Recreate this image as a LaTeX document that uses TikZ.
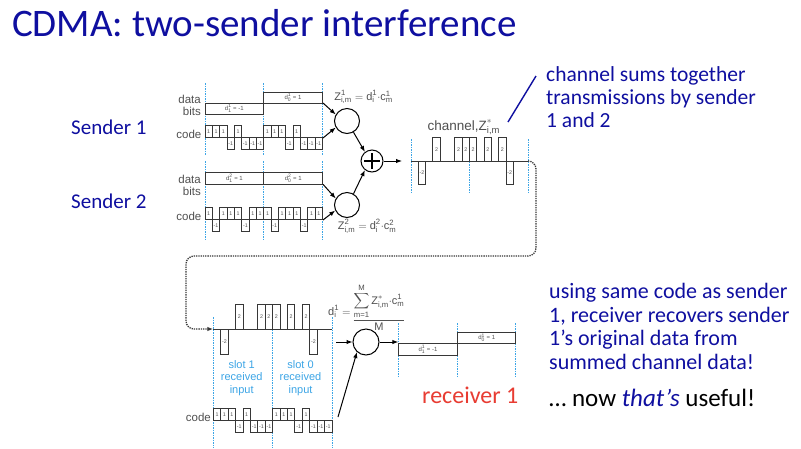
\documentclass[tikz,border=0pt]{standalone}
\usepackage{fontspec}
\usepackage{amsmath}
\setmainfont{Carlito}
\newfontfamily\dfont{Liberation Sans}
\usetikzlibrary{arrows.meta}

\definecolor{slideblue}{RGB}{15,15,160}
\definecolor{ink}{RGB}{55,55,55}
\definecolor{lbl}{RGB}{80,80,80}
\definecolor{slotblue}{RGB}{60,165,230}
\definecolor{rxred}{RGB}{232,60,50}

\newcommand\tv[1]{\text{#1}}
\newcommand\dlab[3]{$\tv{d}^{\tv{#1}}_{\tv{#2}}$ = #3}

% chip train: #1 name prefix, #2 x0, #3 baseline, #4 chip width, #5 unit height, #6 values
\newcommand\chipseq[6]{%
  \foreach \v [count=\k from 0] in {#6} {%
    \ifnum\v=0\relax\else
      \draw[wave] ({#2+\k*#4},#3) rectangle ({#2+(\k+1)*#4},{#3-\v*#5});
      \node[chiplbl] (#1-\k) at ({#2+(\k+0.5)*#4},{#3-\v*#5/2}) {\v};
    \fi}}

% one data bit: #1 name, #2 x0, #3 x1, #4 baseline, #5 value, #6 height, #7 label
\newcommand\databit[7]{%
  \draw[wave] (#2,#4) rectangle (#3,{#4-#5*#6});
  \node[bitlbl] (#1) at ({(#2+#3)/2},{#4-#5*#6/2}) {#7};}

% slot boundaries: #1 x0, #2 slot width, #3 top, #4 bottom
\newcommand\slotlines[4]{%
  \foreach \j in {0,1,2} \draw[slot] ({#1+\j*#2},#3) -- ({#1+\j*#2},#4);}

\begin{document}
\begin{tikzpicture}[x=1pt,y=-1pt,
  wave/.style={draw=ink, line width=0.9pt},
  slot/.style={draw=slotblue, line width=0.8pt, dash pattern=on 1.5pt off 1pt},
  chiplbl/.style={font=\dfont\fontsize{5.3}{5.3}\selectfont, text=lbl, inner sep=0},
  bitlbl/.style={font=\dfont\fontsize{6}{6}\selectfont, text=lbl, inner sep=0},
  side/.style={font=\dfont\fontsize{11.5}{11.5}\selectfont, text=lbl, inner sep=0},
  fml/.style={font=\dfont\fontsize{11}{11}\selectfont, text=lbl, inner sep=0},
  mult/.style={circle, draw=black, line width=1pt, minimum size=25pt, inner sep=0},
  arr/.style={draw=black, line width=1pt, -{Latex[length=6pt,width=4.5pt]}},
  link/.style={draw=ink, line width=1.3pt, dash pattern=on 1.3pt off 1pt},
  sender/.style={font=\fontsize{21}{21}\selectfont, text=slideblue, inner sep=0, anchor=base west}]

\fill[white] (0,0) rectangle (801,448);
\useasboundingbox (0,0) rectangle (801,448);

% title
\node[anchor=base west, font=\fontsize{39}{39}\selectfont, text=slideblue, inner sep=0]
  (title) at (12,36.7) {CDMA: two-sender interference};

% senders
\node[sender] (snd1) at (71,134) {Sender 1};
\node[sender] (snd2) at (71,208) {Sender 2};

% ---- sender 1
\slotlines{205}{58.65}{83}{155}
\databit{s1b1}{205}{263.65}{103}{-1}{11}{\dlab{1}{1}{-1}}
\databit{s1b0}{263.65}{322.3}{103}{1}{11}{\dlab{1}{0}{1}}
\chipseq{s1c}{205}{137.3}{7.33}{12}{1,1,1,-1,1,-1,-1,-1,1,1,1,-1,1,-1,-1,-1}
\node[side, anchor=base east] (s1data) at (201,103.3) {data};
\node[side, anchor=base east] (s1bits) at (201,115) {bits};
\node[side, anchor=base east] (s1code) at (201.5,138.3) {code};
\coordinate (s1dend) at (323,103);
\coordinate (s1cend) at (323,138);

% ---- sender 2
\slotlines{205}{58.85}{161}{240}
\databit{s2b1}{205}{263.85}{184.3}{1}{12}{\dlab{2}{1}{1}}
\databit{s2b0}{263.85}{322.7}{184.3}{1}{12}{\dlab{2}{0}{1}}
\chipseq{s2c}{205}{219.3}{7.35}{12}{1,-1,1,1,1,-1,1,1,1,-1,1,1,1,-1,1,1}
\node[side, anchor=base east] (s2data) at (201,183.3) {data};
\node[side, anchor=base east] (s2bits) at (201,195) {bits};
\node[side, anchor=base east] (s2code) at (201.5,220.7) {code};
\coordinate (s2dend) at (323,184.3);
\coordinate (s2cend) at (323,220);

% ---- multipliers and summer
\node[mult] (m1) at (347,121) {};
\node[mult] (m2) at (347,205) {};
\node[mult, minimum size=22pt] (sum) at (372,161) {};
\draw[black, line width=1.3pt] ([xshift=-8pt]sum.center) -- ([xshift=8pt]sum.center);
\draw[black, line width=1.3pt] ([yshift=-8pt]sum.center) -- ([yshift=8pt]sum.center);

\node[fml, anchor=base] (z1) at (363.5,100)
  {$\tv{Z}^{\tv{1}}_{\tv{i,m}} = \tv{d}^{\tv{1}}_{\tv{i}}{\cdot}\tv{c}^{\tv{1}}_{\tv{m}}$};
\node[fml, anchor=base] (z2) at (367,229.3)
  {$\tv{Z}^{\tv{2}}_{\tv{i,m}} = \tv{d}^{\tv{2}}_{\tv{i}}{\cdot}\tv{c}^{\tv{2}}_{\tv{m}}$};

\draw[arr] (s1dend) -- (m1.150);
\draw[arr] (s1cend) -- (m1.210);
\draw[arr] (s2dend) -- (m2.150);
\draw[arr] (s2cend) -- (m2.205);
\draw[arr] (m1.-60) -- (sum.128);
\draw[arr] (m2.60) -- (sum.232);

% ---- channel
\coordinate (chin) at (402,161);
\coordinate (chstart) at (411,161);
\coordinate (chend) at (528,161);
\draw[arr] (sum.east) -- (chin);
\slotlines{411}{58.5}{139}{193}
\draw[wave] (chstart) -- (chend);
\chipseq{ch}{411}{161}{7.3125}{11.75}{0,-2,0,2,0,0,2,2,2,0,2,0,2,-2,0,0}
\node[anchor=base west, font=\dfont\fontsize{13.5}{14}\selectfont, text=lbl, inner sep=0]
  (chlbl) at (427.5,130) {channel,$\tv{Z}^{*}_{\tv{i,m}}$};

\node[anchor=north west, align=left, font=\fontsize{21.5}{23}\selectfont, text=slideblue, inner sep=0]
  (note1) at (546,66.5) {channel sums together\\transmissions by sender\\1 and 2};
\coordinate (ann) at (508,122);
\coordinate (annend) at (536,76);
\draw[slideblue, line width=1.4pt] (ann) -- (annend);

% ---- received signal
\coordinate (rxstart) at (213.3,329);
\coordinate (rxend) at (332,329);
\draw[link, rounded corners=8pt, -{Latex[length=6pt,width=4.5pt]}]
  (chend) -- (536,161) -- (536,256) -- (186,256) -- (186,329) -- (rxstart);
\slotlines{213.3}{59.35}{317}{448}
\draw[wave] (rxstart) -- (rxend);
\chipseq{rx}{213.3}{329}{7.42}{12.5}{0,-2,0,2,0,0,2,2,2,0,2,0,2,-2,0,0}

\node[anchor=north, align=center, font=\dfont\fontsize{11}{12.5}\selectfont, text=slotblue, inner sep=0]
  (sl1) at (241.7,360) {slot 1\\received\\input};
\node[anchor=north, align=center, font=\dfont\fontsize{11}{12.5}\selectfont, text=slotblue, inner sep=0]
  (sl0) at (300.5,360) {slot 0\\received\\input};

\chipseq{rc}{213.3}{420.3}{7.42}{12}{1,1,1,-1,1,-1,-1,-1,1,1,1,-1,1,-1,-1,-1}
\node[side, anchor=base east] (rcode) at (211,421.7) {code};
\coordinate (rcend) at (338,417);

% ---- receiver
\node[mult, minimum size=26pt] (rx) at (366,342) {};
\coordinate (rxin) at (336,342);
\coordinate (outstart) at (398.3,342);
\draw[arr] (rxin) -- (rx.west);
\draw[arr] (rcend) -- (rx.228);
\draw[arr] (rx.east) -- (outstart);

\node[fml, anchor=base west] (dform) at (328,322.7)
  {$\raisebox{7.5pt}{$\tv{d}^{\tv{1}}_{\tv{i}} =$}\,\dfrac{\displaystyle\sum_{\tv{m=1}}^{\tv{M}}\tv{Z}^{*}_{\tv{i,m}}{\cdot}\tv{c}^{\tv{1}}_{\tv{m}}}{\tv{M}}$};

% ---- recovered data
\slotlines{398.3}{58.7}{323}{378}
\databit{o1}{398.3}{457.7}{343.5}{-1}{11.5}{\dlab{1}{1}{-1}}
\databit{o0}{457.7}{515.7}{343.5}{1}{11.5}{\dlab{1}{0}{1}}

\node[anchor=base west, font=\fontsize{24}{24}\selectfont, text=rxred, inner sep=0]
  (rxlbl) at (422,403) {receiver 1};

\node[anchor=north west, align=left, font=\fontsize{22}{23.7}\selectfont, text=slideblue, inner sep=0]
  (note2) at (549,283) {using same code as sender\\1, receiver recovers sender\\1’s original data from\\summed channel data!};
\node[anchor=base west, font=\fontsize{25}{25}\selectfont, inner sep=0]
  (note3) at (549,406.7) {… now \textit{\textcolor{slideblue}{that’s}} useful!};
\end{tikzpicture}
\end{document}
